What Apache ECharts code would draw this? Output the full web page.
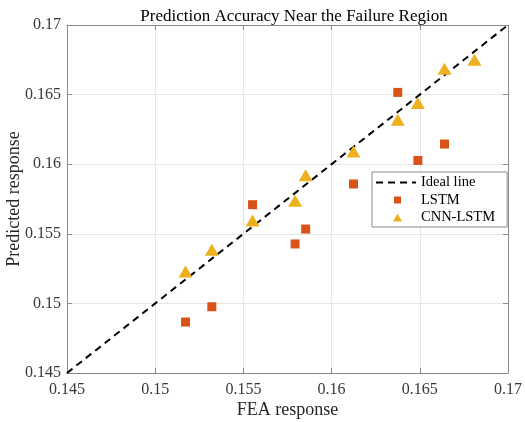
<!DOCTYPE html>
<html>
<head>
<meta charset="utf-8">
<script src="https://cdn.jsdelivr.net/npm/echarts@6/dist/echarts.min.js"></script>
<style>html,body{margin:0;padding:0;background:#fff;}#c{width:525px;height:422px;}</style>
</head>
<body>
<div id="c"></div>
<script>
var titleText = 'Prediction Accuracy Near the Failure Region';
var xName = 'FEA response';
var yName = 'Predicted response';
var tickLabels = ['0.145', '0.15', '0.155', '0.16', '0.165', '0.17'];
var idealX = [0.145, 0.17];
var idealY = [0.145, 0.17];
var lstmX = [0.15172, 0.15321, 0.15552, 0.15793, 0.15853, 0.16124, 0.16375, 0.16489, 0.16640];
var lstmY = [0.14866, 0.14976, 0.15709, 0.15427, 0.15534, 0.15858, 0.16516, 0.16027, 0.16145];
var cnnX = [0.15172, 0.15321, 0.15552, 0.15793, 0.15853, 0.16124, 0.16375, 0.16489, 0.16640, 0.16810];
var cnnY = [0.15230, 0.15386, 0.15596, 0.15738, 0.15920, 0.16092, 0.16320, 0.16440, 0.16686, 0.16751];

function zip(a, b) { return a.map(function (v, i) { return [v, b[i]]; }); }
function fmt(v) {
  var i = Math.round((v - 0.145) / 0.005);
  return tickLabels[i] !== undefined ? tickLabels[i] : '';
}
var font = 'Liberation Serif';
var axisCommon = {
  min: 0.145, max: 0.17, interval: 0.005,
  axisLine: { show: true, lineStyle: { color: '#8a8a8a', width: 1 } },
  axisTick: { show: true, inside: true, length: 5, lineStyle: { color: '#8a8a8a' } },
  splitLine: { show: true, lineStyle: { color: '#e6e6e6', width: 1 } }
};
// legend icons: small marker placed in a wide invisible box
var squareIcon = 'path://M0,0M40,14M18,3.5h7v7h-7z';
var triIcon = 'path://M0,0M40,14M21.5,3L26,11L17,11z';
var chart = echarts.init(document.getElementById('c'));
chart.setOption({
  animation: false,
  backgroundColor: '#ffffff',
  title: {
    text: titleText, left: 289, top: 3, textAlign: 'center',
    textStyle: { fontFamily: font, fontSize: 17, fontWeight: 'normal', color: '#000' }
  },
  grid: { left: 67, right: 17, top: 25, bottom: 49, containLabel: false, outerBoundsMode: 'none' },
  legend: {
    orient: 'vertical', left: 372, top: 172,
    backgroundColor: '#fff', borderColor: '#8a8a8a', borderWidth: 1,
    padding: [3, 12, 2, 3], itemGap: 2.5, itemWidth: 40, itemHeight: 14,
    textStyle: { fontFamily: font, fontSize: 14.5, color: '#000' },
    data: [
      { name: 'Ideal line', itemStyle: { opacity: 0 } },
      { name: 'LSTM', icon: squareIcon, itemStyle: { color: '#D95319' } },
      { name: 'CNN-LSTM', icon: triIcon, itemStyle: { color: '#EDB120' } }
    ]
  },
  xAxis: [
    Object.assign({}, axisCommon, {
      type: 'value', position: 'bottom',
      name: xName, nameLocation: 'middle', nameGap: 28, nameMoveOverlap: false,
      nameTextStyle: { fontFamily: font, fontSize: 18, color: '#262626' },
      axisLabel: { fontFamily: font, fontSize: 16, color: '#383838', margin: 9, formatter: fmt }
    }),
    Object.assign({}, axisCommon, {
      type: 'value', position: 'top', axisLabel: { show: false }, splitLine: { show: false }
    })
  ],
  yAxis: [
    Object.assign({}, axisCommon, {
      type: 'value', position: 'left',
      name: yName, nameLocation: 'middle', nameGap: 44, nameMoveOverlap: false,
      nameTextStyle: { fontFamily: font, fontSize: 18, color: '#262626' },
      axisLabel: { fontFamily: font, fontSize: 16, color: '#383838', margin: 6, formatter: fmt }
    }),
    Object.assign({}, axisCommon, {
      type: 'value', position: 'right', axisLabel: { show: false }, splitLine: { show: false }
    })
  ],
  series: [
    {
      name: 'Ideal line', type: 'line', xAxisIndex: 0, yAxisIndex: 0,
      data: zip(idealX, idealY), symbol: 'none', z: 3,
      lineStyle: { color: '#000', width: 2, type: [7, 5] },
      itemStyle: { color: '#000' }
    },
    {
      name: 'LSTM', type: 'scatter', xAxisIndex: 0, yAxisIndex: 0,
      data: zip(lstmX, lstmY), symbol: 'rect', symbolSize: 9, z: 4,
      itemStyle: { color: '#D95319', opacity: 1 }
    },
    {
      name: 'CNN-LSTM', type: 'scatter', xAxisIndex: 0, yAxisIndex: 0,
      data: zip(cnnX, cnnY), symbol: 'triangle', symbolSize: [14, 12], z: 5,
      itemStyle: { color: '#EDB120', opacity: 1 }
    }
  ]
});
</script>
</body>
</html>
